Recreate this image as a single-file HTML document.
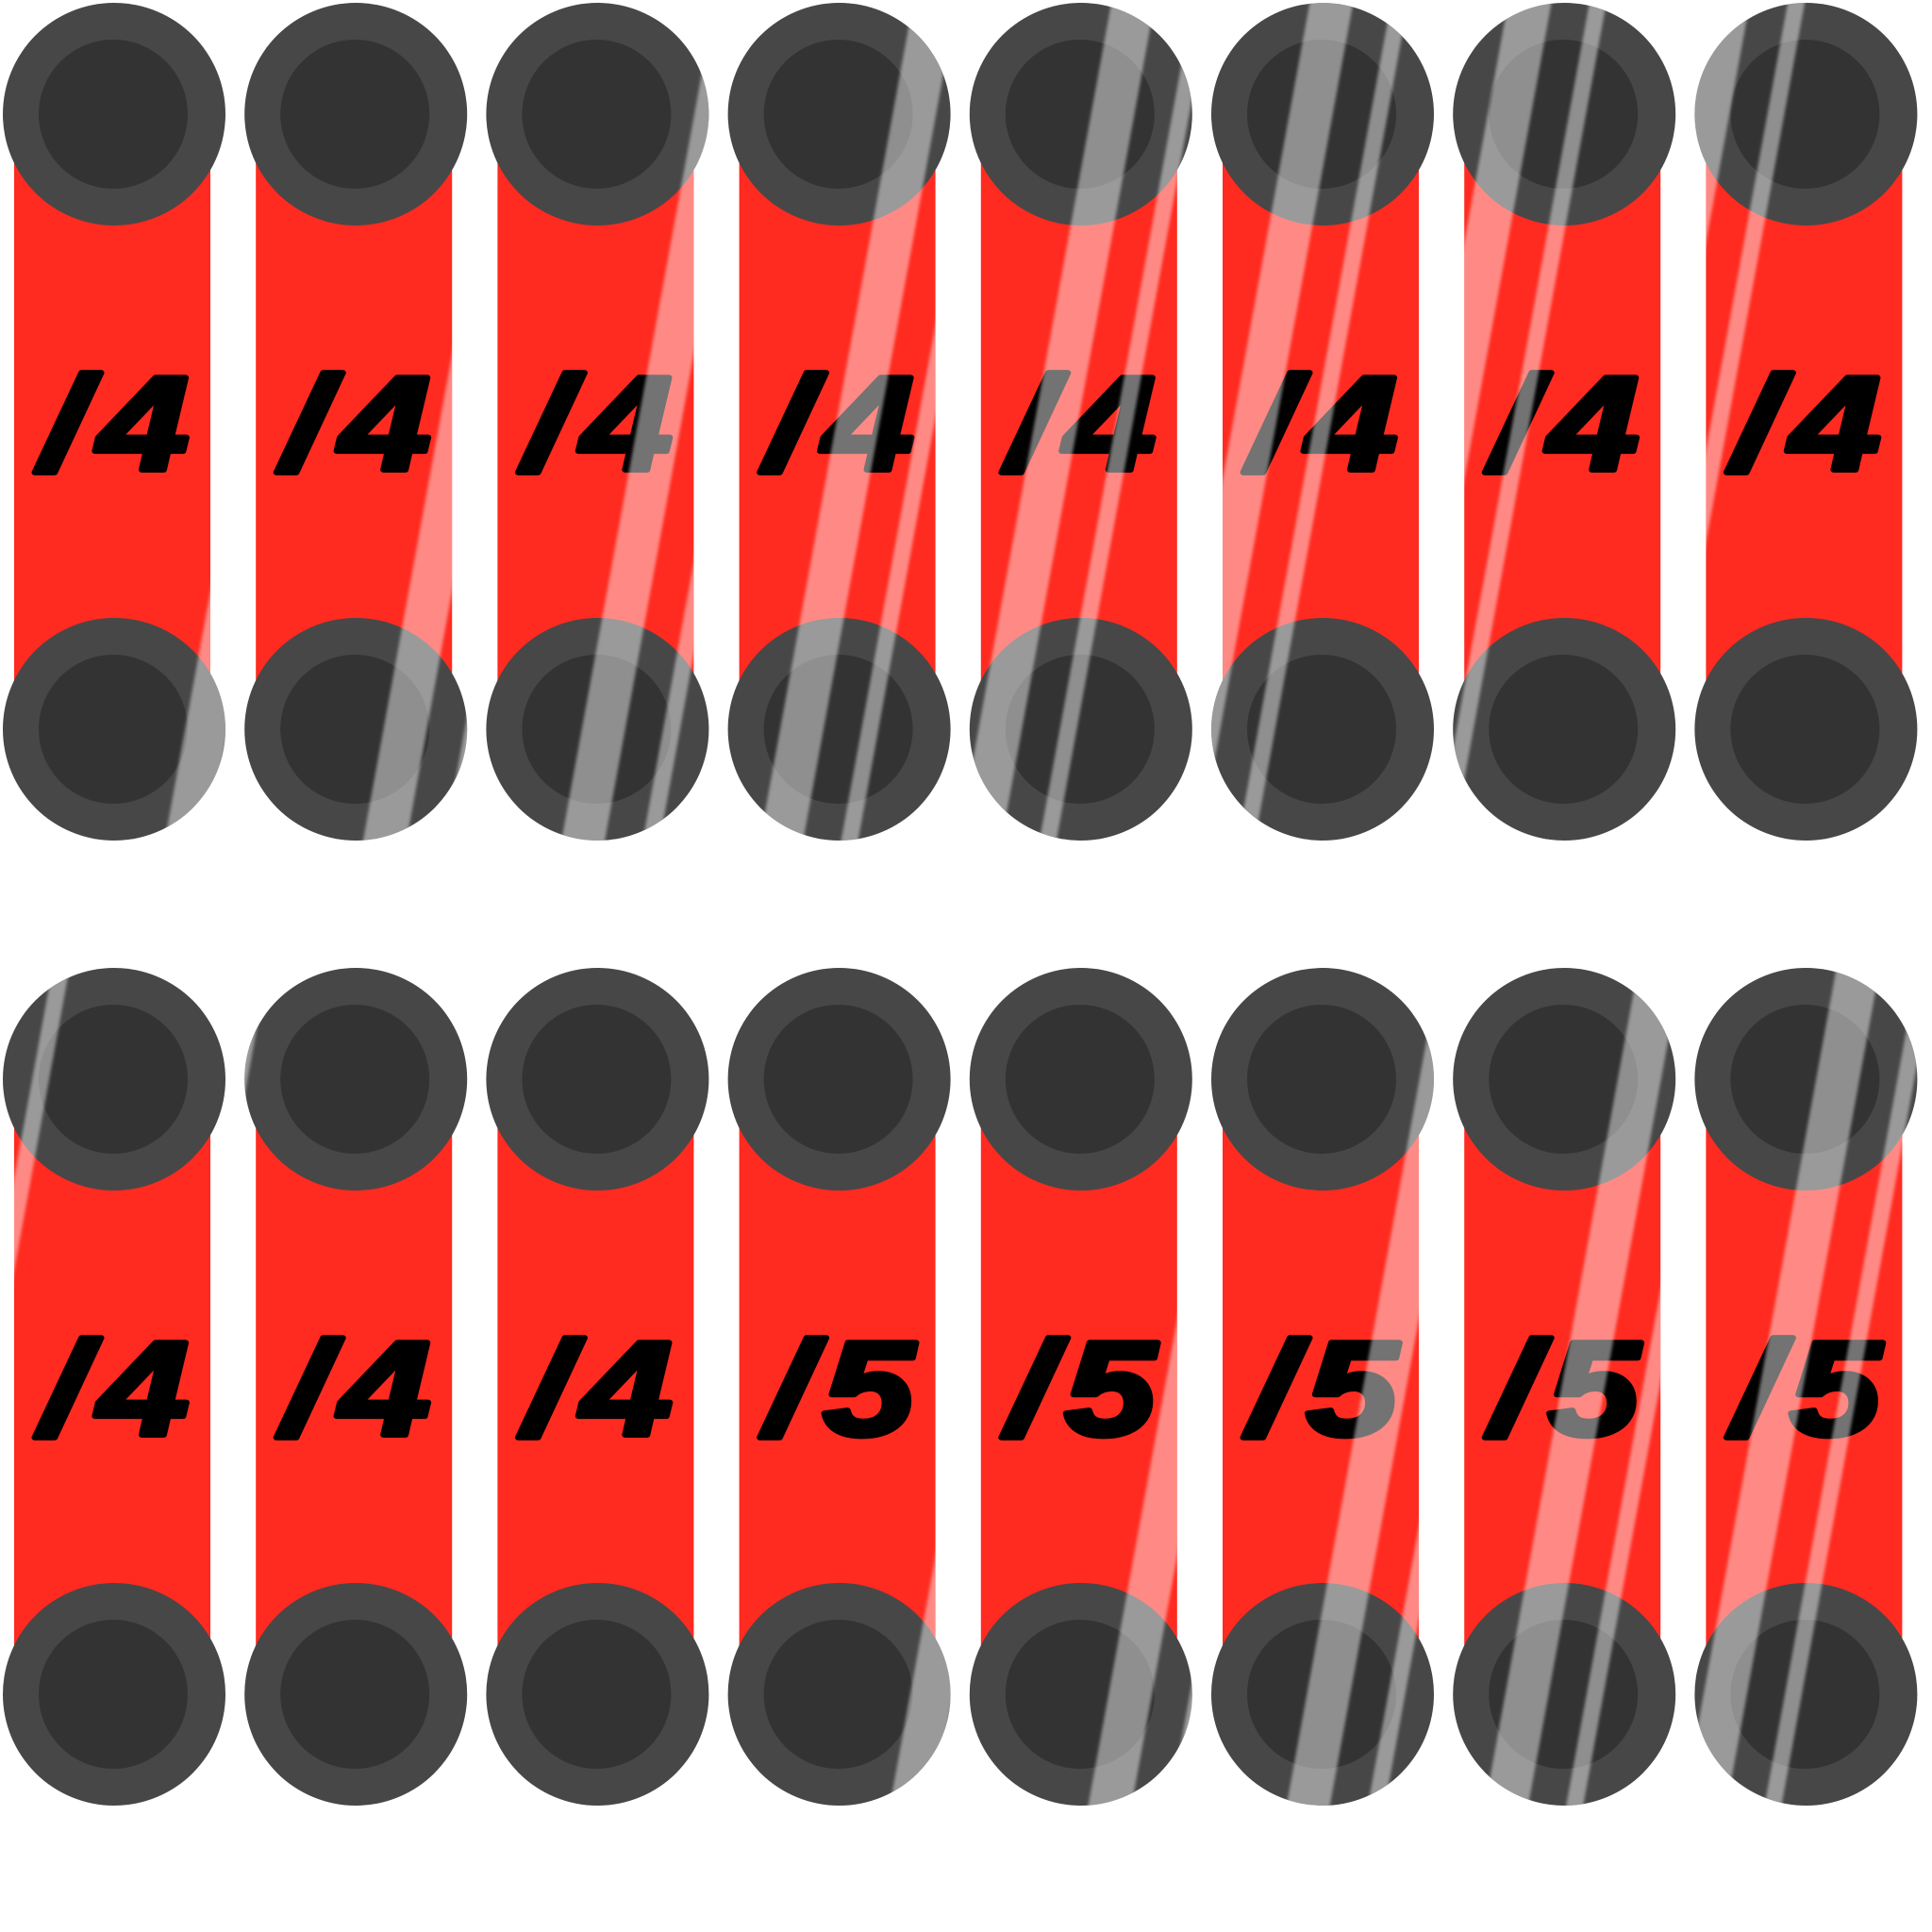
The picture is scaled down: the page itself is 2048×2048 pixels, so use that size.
<!DOCTYPE html>
<html><head><meta charset="utf-8"><style>
html,body{margin:0;padding:0;background:#fff}
svg{display:block}
</style></head><body>
<svg id="chart" width="2048" height="2048" viewBox="0 0 2048 2048" xmlns="http://www.w3.org/2000/svg">
<defs>
<filter id="soft" x="-5%" y="-5%" width="110%" height="110%"><feGaussianBlur stdDeviation="1.5"/></filter>
</defs>
<g id="tiles"></g>
</svg>
<script>
const labels = ["/4","/4","/4","/4","/4","/4","/4","/4","/4","/4","/4","/5","/5","/5","/5","/5"];
const glareOffsets = [150,115,80,45,10,-25,-60,-95,-130,-165,-200,150,115,80,45,10];
const S = 2048/1560;
const pitch = 256.2, rowPitch = 1023;
const svgns = "http://www.w3.org/2000/svg";
const g = document.getElementById('tiles');
function mk(tag, attrs, parent){const e=document.createElementNS(svgns,tag);for(const k in attrs)e.setAttribute(k,attrs[k]);parent.appendChild(e);return e;}
labels.forEach((lab,i)=>{
  const col=i%8,row=Math.floor(i/8);
  const ox=col*pitch, oy=row*rowPitch;
  const tile=mk('g',{transform:`translate(${ox},${oy})`},g);
  
  
  const cid='clip'+i;
  const cp=mk('clipPath',{id:cid},tile);
  mk('rect',{x:15,y:121,width:208,height:652},cp);
  mk('circle',{cx:121,cy:121,r:118},cp);
  mk('circle',{cx:121,cy:773,r:118},cp);
  const body=mk('rect',{x:15,y:121,width:208,height:652,fill:'#ff2a20'},tile);
  
  
  const t=mk('text',{x:0,y:0,transform:'translate(128,498) scale(1.22,1)','text-anchor':'middle','font-family':'"Liberation Sans", sans-serif','font-weight':'bold','font-style':'italic','font-size':142,'letter-spacing':10,fill:'#000',stroke:'#000','stroke-width':6,'stroke-linejoin':'round'},tile);
  t.textContent=lab;
  
  
  [121,773].forEach((cy,k)=>{
    const cap=mk('g',{},tile);
    
    
    mk('circle',{cx:121,cy:cy,r:118,fill:'#474747'},cap);
    mk('circle',{cx:120,cy:cy,r:79,fill:'#333333'},cap);
  });
  const gl=mk('g',{'clip-path':`url(#${cid})`,fill:'#fff','fill-opacity':0.45,filter:'url(#soft)'},tile);
  
  
  const c=glareOffsets[i];
  const yb=895,yt=-2;
  const stripe=(cx,w)=>{
    const xb=cx*S, xt=(cx+125)*S;
    return `${xb-w/2},${yb} ${xb+w/2},${yb} ${xt+w/2},${yt} ${xt-w/2},${yt}`;
  };
  mk('polygon',{points:stripe(c,46)},gl);
  mk('polygon',{points:stripe(c+55,18)},gl);
});
</script>
</body></html>
